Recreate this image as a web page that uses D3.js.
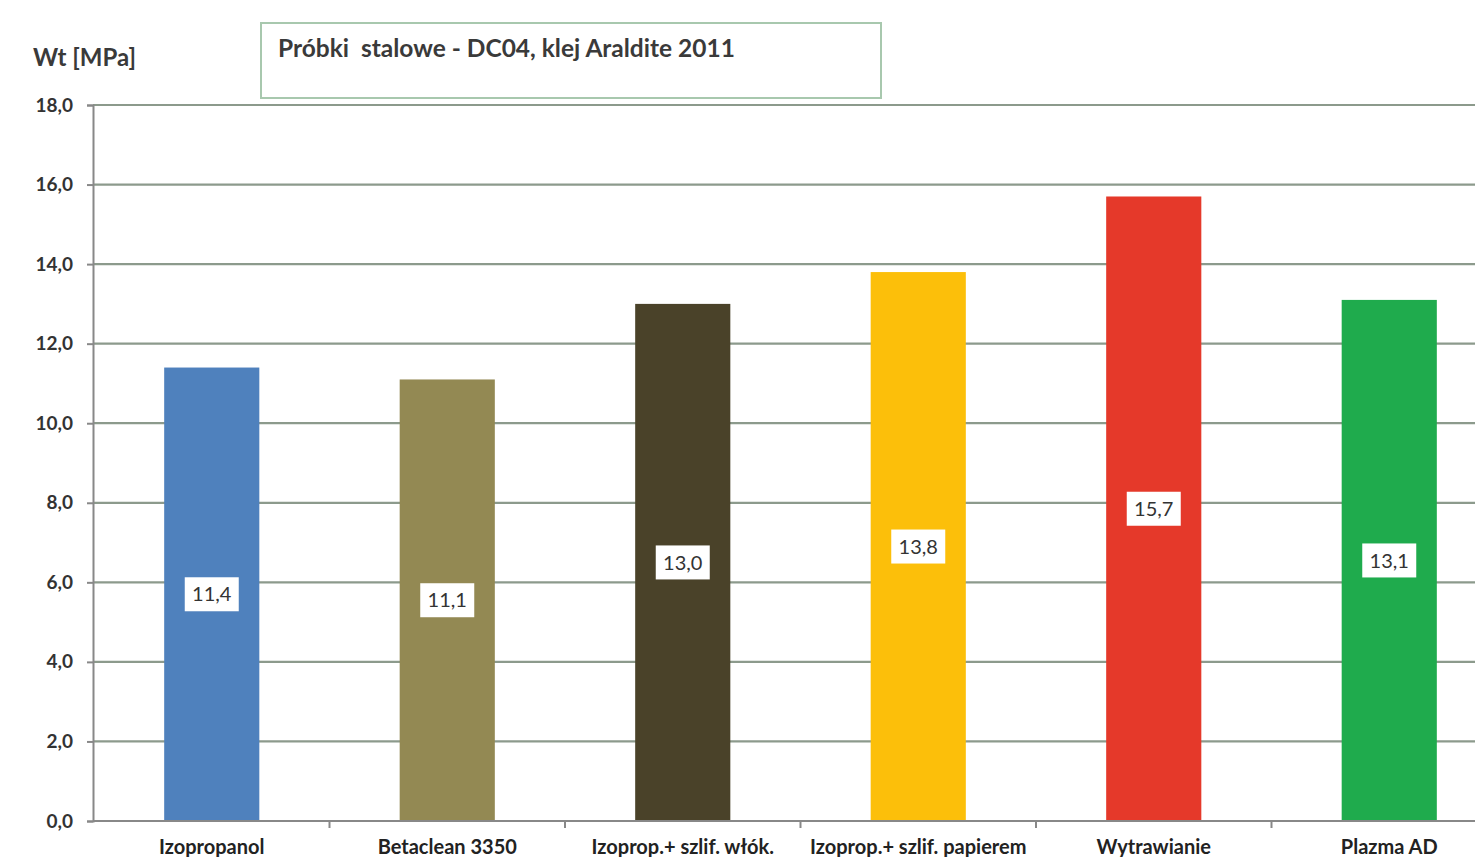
<!DOCTYPE html>
<html><head><meta charset="utf-8">
<script src="https://cdn.jsdelivr.net/npm/d3@7"></script>
<style>
html,body{margin:0;padding:0;background:#fff;overflow:hidden;}
text{font-family:Lato,"Liberation Sans",sans-serif;}
</style></head>
<body>
<svg id="c" width="1475" height="857"></svg>
<script>
const categories = ["Izopropanol","Betaclean 3350","Izoprop.+ szlif. włók.","Izoprop.+ szlif. papierem","Wytrawianie","Plazma AD"];
const values = [11.4, 11.1, 13.0, 13.8, 15.7, 13.1];
const labels = ["11,4","11,1","13,0","13,8","15,7","13,1"];
const colors = ["#4f81bd","#938953","#4a4229","#fcbf0a","#e5392a","#1fab4d"];
const yTicks = [0,2,4,6,8,10,12,14,16,18];
const yTickLabels = ["0,0","2,0","4,0","6,0","8,0","10,0","12,0","14,0","16,0","18,0"];
const title = "Próbki  stalowe - DC04, klej Araldite 2011";
const yTitle = "Wt [MPa]";

const svg = d3.select("#c");
const pLeft = 94, pRight = 1507, pTop = 105, pBottom = 821;
const x = d3.scaleBand().domain(categories).range([pLeft, pRight]).paddingInner(0.596).paddingOuter(0.298);
const y = d3.scaleLinear().domain([0,18]).range([pBottom, pTop]);

// gridlines
svg.append("g").selectAll("line").data(yTicks.slice(1)).join("line")
  .attr("x1", 93).attr("x2", 1475).attr("y1", d=>y(d)).attr("y2", d=>y(d))
  .attr("stroke", "#8c9a8c").attr("stroke-width", 2.2);

// bars
svg.append("g").selectAll("rect").data(values).join("rect")
  .attr("x", (d,i)=>x(categories[i])).attr("width", x.bandwidth())
  .attr("y", d=>y(d)).attr("height", d=>pBottom - y(d))
  .attr("fill", (d,i)=>colors[i]);

// y axis
const yAxis = d3.axisLeft(y).tickValues(yTicks).tickFormat((d,i)=>yTickLabels[i]).tickSize(6).tickPadding(14);
const ga = svg.append("g").attr("transform", `translate(93,0)`).call(yAxis);
ga.select(".domain").attr("stroke", "#888").attr("stroke-width", 2);
ga.selectAll(".tick line").attr("stroke", "#888").attr("stroke-width", 2);
ga.selectAll(".tick text").attr("font-size", 19).attr("font-weight", "bold").attr("fill", "#333").attr("font-family", "Lato");

// x axis
const bounds = categories.map((c,i)=>pLeft + i*(pRight-pLeft)/6);
svg.append("line").attr("x1", 93).attr("x2", 1475).attr("y1", pBottom).attr("y2", pBottom).attr("stroke", "#888").attr("stroke-width", 2.2);
svg.append("g").selectAll("line").data(bounds.slice(1)).join("line")
  .attr("x1", d=>d).attr("x2", d=>d).attr("y1", pBottom).attr("y2", pBottom+7)
  .attr("stroke", "#888").attr("stroke-width", 2);
svg.append("g").selectAll("text").data(categories).join("text")
  .attr("x", d=>x(d)+x.bandwidth()/2).attr("y", 854)
  .attr("text-anchor", "middle").attr("font-size", 20).attr("font-weight", "bold").attr("fill", "#222")
  .text(d=>d);

// value labels
const lg = svg.append("g").selectAll("g").data(values).join("g")
  .attr("transform", (d,i)=>`translate(${x(categories[i])+x.bandwidth()/2},${(y(d)+pBottom)/2})`);
lg.append("rect").attr("x", -27).attr("y", -17).attr("width", 54).attr("height", 34).attr("fill", "#fff");
lg.append("text").attr("text-anchor", "middle").attr("dy", "0.36em").attr("font-size", 20).attr("fill", "#333")
  .text((d,i)=>labels[i]);

// title box
svg.append("rect").attr("x", 261).attr("y", 23).attr("width", 620).attr("height", 75)
  .attr("fill", "#fff").attr("stroke", "#a8c8ae").attr("stroke-width", 2);
svg.append("text").attr("x", 278).attr("y", 57).attr("font-size", 24.5).attr("font-weight", "bold").attr("fill", "#3a3a3a")
  .style("white-space", "pre").text(title);
svg.append("text").attr("x", 33).attr("y", 66).attr("font-size", 24).attr("font-weight", "bold").attr("fill", "#3a3a3a").text(yTitle);
</script>
</body></html>
